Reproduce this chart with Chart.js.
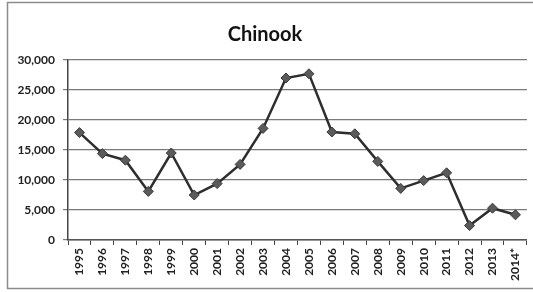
<!DOCTYPE html>
<html>
<head>
<meta charset="utf-8">
<script src="https://cdn.jsdelivr.net/npm/chart.js@4"></script>
<style>
  html, body { margin: 0; padding: 0; background: #fff; }
  #wrap { width: 533px; height: 292px; position: relative; }
</style>
</head>
<body>
<div id="wrap"><canvas id="chart" width="533" height="292"></canvas></div>
<script>
const years = ["1995","1996","1997","1998","1999","2000","2001","2002","2003","2004",
               "2005","2006","2007","2008","2009","2010","2011","2012","2013","2014*"];
const chinook = [17900, 14400, 13300, 8100, 14500, 7500, 9400, 12600, 18600, 27000,
                 27700, 18000, 17700, 13100, 8600, 9900, 11200, 2400, 5300, 4200];
const yTicks = [0, 5000, 10000, 15000, 20000, 25000, 30000];

// frame around the whole chart
const frame = {
    id: "frame",
    beforeDraw(chart) {
        const ctx = chart.ctx;
        ctx.save();
        ctx.fillStyle = "#fff";
        ctx.fillRect(0, 0, chart.width, chart.height);
        ctx.strokeStyle = "#8c8c8c";
        ctx.lineWidth = 1.5;
        ctx.strokeRect(7.5, 2.5, 540, 286);
        ctx.restore();
    }
};

new Chart(document.getElementById("chart"), {
    type: "line",
    data: {
        labels: years,
        datasets: [{
            label: "Chinook",
            data: chinook,
            borderColor: "#2e2e2e",
            borderWidth: 2.5,
            pointStyle: "rectRot",
            pointRadius: 5,
            pointBackgroundColor: "#5a5a5a",
            pointBorderColor: "#3a3a3a",
            pointBorderWidth: 1,
            tension: 0
        }]
    },
    options: {
        responsive: false,
        animation: false,
        layout: { padding: { left: 0, right: 3, top: 0, bottom: 0 } },
        plugins: {
            legend: { display: false },
            tooltip: { enabled: false },
            title: {
                display: true,
                text: "Chinook",
                color: "#111",
                font: { family: "Lato", size: 20, weight: "bold" },
                padding: { top: 23, bottom: 13 }
            }
        },
        scales: {
            x: {
                offset: true,
                grid: { display: true, drawOnChartArea: false, drawTicks: true, tickLength: 5, offset: true, color: "#444" },
                border: { color: "#555", width: 1.5 },
                ticks: {
                    minRotation: 90, maxRotation: 90, autoSkip: false, padding: 3,
                    color: "#222", font: { family: "Lato", size: 12, weight: "bold" }
                },
                afterFit(scale) { scale.height = 52; }
            },
            y: {
                min: 0, max: 30000,
                afterBuildTicks(scale) { scale.ticks = yTicks.map(v => ({ value: v })); },
                grid: { color: "#7a7a7a", lineWidth: 1.2, tickLength: 5 },
                border: { color: "#444", width: 1.5 },
                ticks: {
                    padding: 8, color: "#222",
                    font: { family: "Lato", size: 12, weight: "bold" },
                    callback: v => v.toLocaleString("en-US")
                },
                afterFit(scale) { scale.width = 68; }
            }
        }
    },
    plugins: [frame]
});
</script>
</body>
</html>
